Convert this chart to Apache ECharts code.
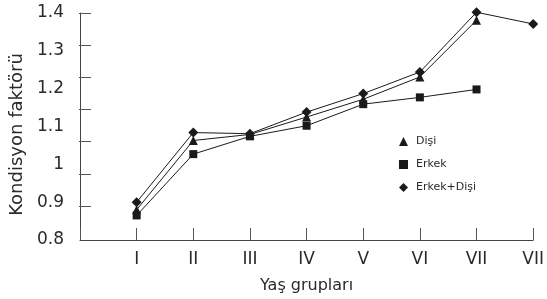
<!DOCTYPE html>
<html><head><meta charset="utf-8">
<script src="https://cdn.jsdelivr.net/npm/echarts@6/dist/echarts.min.js"></script>
<style>html,body{margin:0;padding:0;background:#fff}#c{width:547px;height:299px}</style>
</head><body><div id="c"></div>
<script>
const categories = ['', 'I', 'II', 'III', 'IV', 'V', 'VI', 'VII', 'VII'];
const disi = [null, 0.880, 1.063, 1.079, 1.125, 1.172, 1.231, 1.381, null];
const erkek = [null, 0.865, 1.027, 1.074, 1.102, 1.159, 1.177, 1.198, null];
const erkekDisi = [null, 0.900, 1.084, 1.081, 1.138, 1.187, 1.244, 1.402, 1.371];
const yTicks = [0.8, 0.9, 1, 1.1, 1.2, 1.3, 1.4];

const chart = echarts.init(document.getElementById('c'), null, {renderer: 'canvas'});
const ink = '#1a1a1a';
const txt = '#2a2a2a';
const font = 'DejaVu Sans';
function line(name, data, symbol, size) {
  return {name, type: 'line', data, symbol, symbolSize: size, connectNulls: false, clip: false,
    xAxisIndex: 0, yAxisIndex: 0,
    lineStyle: {color: ink, width: 1}, itemStyle: {color: ink}, z: 3};
}
chart.setOption({
  animation: false,
  grid: [
    {left: 79, right: 9, top: 13, bottom: 54},
    {left: 79, right: 9, top: 13, bottom: 93}
  ],
  legend: {
    orient: 'vertical', left: 394, top: 131, itemGap: 12, itemWidth: 9, itemHeight: 9,
    textStyle: {fontFamily: font, fontSize: 11, color: txt, padding: [0, 0, 0, 3]},
    data: [{name: 'Dişi', icon: 'triangle'}, {name: 'Erkek', icon: 'rect'}, {name: 'Erkek+Dişi', icon: 'diamond'}]
  },
  xAxis: [{
    type: 'category', gridIndex: 0, data: categories, boundaryGap: false,
    name: 'Yaş grupları', nameLocation: 'middle', nameGap: 38,
    nameTextStyle: {fontFamily: font, fontSize: 16, color: txt},
    axisLine: {lineStyle: {color: '#444', width: 1}},
    axisTick: {inside: true, length: 12, lineStyle: {color: '#555'}},
    axisLabel: {fontFamily: font, fontSize: 17, color: txt, margin: 11},
    splitLine: {show: false}
  }, {
    type: 'category', gridIndex: 1, show: false, data: categories
  }],
  yAxis: [{
    type: 'value', gridIndex: 0, min: 0.8, max: 1.4, interval: 0.1,
    name: 'Kondisyon faktörü', nameLocation: 'middle', nameGap: 54, nameRotate: 90,
    nameTextStyle: {fontFamily: font, fontSize: 18, color: txt, padding: [0, 16, 0, 0]},
    axisLine: {show: true, lineStyle: {color: '#444', width: 1}},
    axisTick: {show: false},
    axisLabel: {fontFamily: font, fontSize: 17, color: txt, margin: 16,
      formatter: v => { const t = yTicks.find(x => Math.abs(x - v) < 1e-6); return t === undefined ? '' : String(t); }},
    splitLine: {show: false}
  }, {
    type: 'value', gridIndex: 1, inverse: true, min: 0, max: 6, interval: 1,
    axisLine: {show: false}, axisLabel: {show: false}, splitLine: {show: false},
    axisTick: {show: true, inside: true, length: 12, lineStyle: {color: '#555'}}
  }],
  series: [
    line('Dişi', disi, 'triangle', 9),
    line('Erkek', erkek, 'rect', 8),
    line('Erkek+Dişi', erkekDisi, 'diamond', 10)
  ]
});
</script></body></html>
